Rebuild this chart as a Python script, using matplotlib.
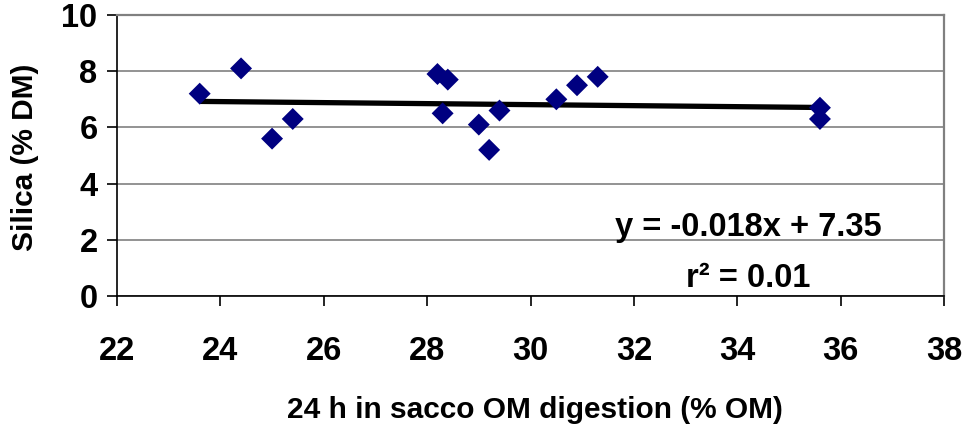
import matplotlib
matplotlib.use("Agg")
import matplotlib.pyplot as plt
import numpy as np

plt.rcParams['font.family'] = ['Liberation Sans', 'DejaVu Sans']
plt.rcParams['font.weight'] = 'bold'

# Data
om_digestion = [23.6, 24.4, 25.0, 25.4, 28.2, 28.4, 28.3, 29.0, 29.2, 29.4,
                30.5, 30.9, 31.3, 35.6, 35.6]
silica = [7.2, 8.1, 5.6, 6.3, 7.9, 7.7, 6.5, 6.1, 5.2, 6.6,
          7.0, 7.5, 7.8, 6.7, 6.3]
slope = -0.018
intercept = 7.35
x_ticks = [22, 24, 26, 28, 30, 32, 34, 36, 38]
y_ticks = [0, 2, 4, 6, 8, 10]
eq_text = "y = -0.018x + 7.35"
r2_text = "r\u00b2 = 0.01"
x_label = "24 h in sacco OM digestion (% OM)"
y_label = "Silica (% DM)"

fig = plt.figure(figsize=(9.67, 4.30), dpi=100)
ax = fig.add_axes([117/967, (430-296)/430, (944-117)/967, (296-15)/430])

ax.set_xlim(x_ticks[0], x_ticks[-1])
ax.set_ylim(y_ticks[0], y_ticks[-1])
ax.set_xticks(x_ticks)
ax.set_yticks(y_ticks)
ax.grid(axis='y', color='#808080', linewidth=1.2, zorder=0)

ax.scatter(om_digestion, silica, marker='D', s=125, color='#000080',
           edgecolors='none', zorder=3)
xf = np.array([min(om_digestion), max(om_digestion)])
ax.plot(xf, slope * xf + intercept, color='black', linewidth=3.8, zorder=2,
        solid_capstyle='butt')

for side in ['top', 'right']:
    ax.spines[side].set_color('#808080')
    ax.spines[side].set_linewidth(1.6)
for side in ['left', 'bottom']:
    ax.spines[side].set_color('black')
    ax.spines[side].set_linewidth(1.2)

ax.tick_params(axis='both', direction='out', length=7, width=1.2, color='black',
               labelsize=23.5)
ax.tick_params(axis='y', pad=7)
ax.tick_params(axis='x', pad=22)

ax.text(0.763, 0.242, eq_text, transform=ax.transAxes, ha='center', va='center',
        fontsize=23.5, fontweight='bold')
ax.text(0.763, 0.064, r2_text, transform=ax.transAxes, ha='center', va='center',
        fontsize=23.5, fontweight='bold')

fig.text(535/967, 1 - 410/430, x_label, ha='center', va='center',
         fontsize=21.5, fontweight='bold')
fig.text(25/967, 1 - 157/430, y_label, ha='center', va='center',
         rotation=90, fontsize=21.5, fontweight='bold')

fig.savefig('out.png', dpi=100)
